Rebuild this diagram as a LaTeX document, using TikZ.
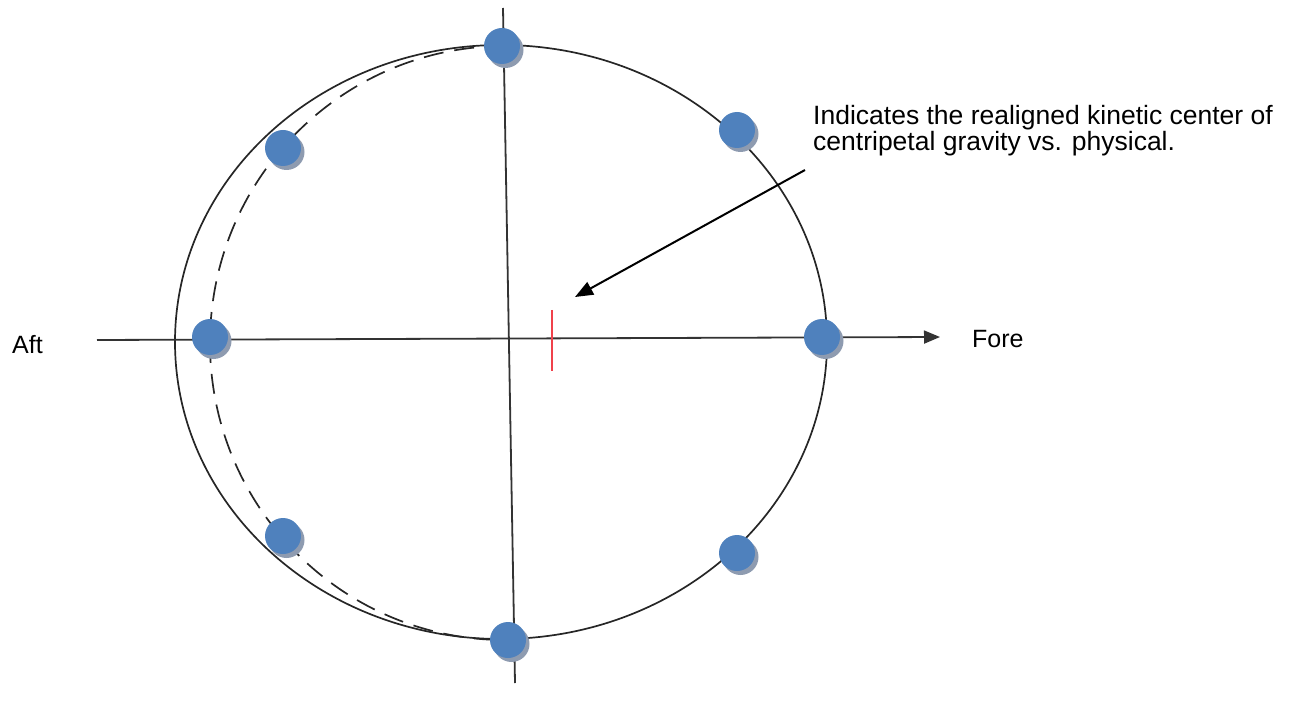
\documentclass[tikz,border=0pt]{standalone}
\usepackage{fontspec}
\setmainfont{Liberation Sans}
\usetikzlibrary{arrows.meta,shadows}
\definecolor{dotblue}{HTML}{4F81BD}
\definecolor{dotshadow}{HTML}{8E9BB0}
\definecolor{markred}{HTML}{F0414B}
\tikzset{
  dot/.style={circle,fill=dotblue,minimum size=36pt,inner sep=0pt,
    drop shadow={shadow xshift=3.5pt,shadow yshift=-4pt,fill=dotshadow,opacity=1}},
  axis/.style={line width=1.8pt,draw=black!80},
  rim/.style={line width=1.7pt,draw=black!85},
  lbl/.style={font=\fontsize{25pt}{27pt}\selectfont,inner sep=0pt},
  notelbl/.style={font=\fontsize{26.5pt}{26.5pt}\selectfont,inner sep=0pt}
}
\begin{document}
\begin{tikzpicture}[x=1pt,y=-1pt]
\useasboundingbox (0,0) rectangle (1293,711);
% outline ellipse and dashed shifted outline
\draw[rim] (501,342) ellipse [x radius=326,y radius=297];
\draw[rim,dash pattern=on 20pt off 11pt] (505,46) arc[start angle=-90,end angle=-270,x radius=295,y radius=297];
% axes
\coordinate (vt) at (503,8);
\coordinate (vb) at (515,683);
\coordinate (hl) at (97,340);
\coordinate (hr) at (940,337);
\draw[axis] (vt) -- (vb);
\draw[axis,-{Triangle[length=16pt,width=13pt]}] (hl) -- (hr);
% red mark
\coordinate (rt) at (552,310);
\coordinate (rb) at (552,371);
\draw[markred,line width=1.5pt] (rt) -- (rb);
% dots
\node[dot] (d1) at (502,46) {};
\node[dot] (d2) at (283,148) {};
\node[dot] (d3) at (737,130) {};
\node[dot] (d4) at (210,337) {};
\node[dot] (d5) at (822,337) {};
\node[dot] (d6) at (283,536) {};
\node[dot] (d7) at (737,553) {};
\node[dot] (d8) at (508,640) {};
% labels
\node[lbl,anchor=base west] (aft) at (12,353) {Aft};
\node[lbl,anchor=base west] (fore) at (972,347) {Fore};
\node[notelbl,anchor=north west,align=left] (note) at (813,105) {Indicates the realigned kinetic center of\\centripetal gravity vs. physical.};
\coordinate (as) at (805,170);
\coordinate (ae) at (575,297);
\draw[line width=2pt,-{Triangle[length=18pt,width=14pt]}] (as) -- (ae);
\end{tikzpicture}
\end{document}
